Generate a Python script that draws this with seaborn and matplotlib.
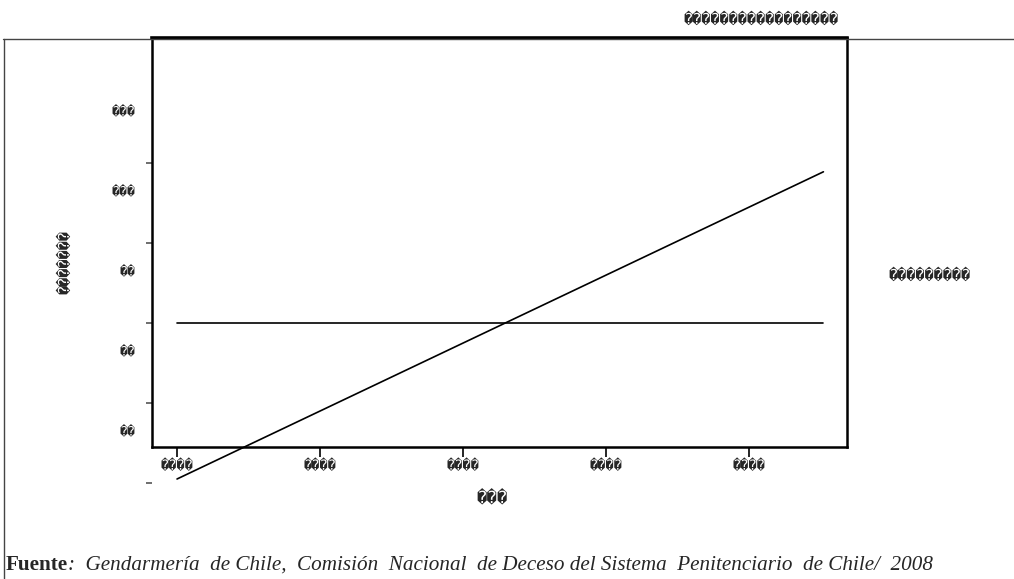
import matplotlib
matplotlib.use("Agg")
import matplotlib.pyplot as plt
import matplotlib.lines as mlines
import seaborn as sns
import pandas as pd

# ---- data ----
x_pos = [0.0, 4.52]            # start / end of both lines on the x scale
trend_vals = [1.05, 4.89]      # rising trend line
mean_vals = [3.0, 3.0]         # flat reference line
x_ticks = [0, 1, 2, 3, 4]
x_tick_labels = ["\ufffd" * 4] * 5
y_ticks = [1, 2, 3, 4, 5]
y_tick_labels = ["\ufffd" * 2, "\ufffd" * 2, "\ufffd" * 2, "\ufffd" * 3, "\ufffd" * 3]
y_label_offset = 0.65
title_text = "\ufffd" * 17
legend_text = "\ufffd" * 9
x_label = "\ufffd" * 3
y_label = "\ufffd" * 7
source_bold = "Fuente"
source_rest = ":  Gendarmería  de Chile,  Comisión  Nacional  de Deceso del Sistema  Penitenciario  de Chile/  2008"

sns.set_theme(style="white")
plt.rcParams["font.family"] = ["Liberation Serif", "DejaVu Sans"]
GLYPH = ["DejaVu Sans Mono", "DejaVu Sans"]

fig = plt.figure(figsize=(10.14, 5.79), dpi=100)
ax = fig.add_axes([152 / 1014, 1 - 447 / 579, 695 / 1014, 409 / 579])

df = pd.DataFrame({"x": x_pos * 2,
                   "y": trend_vals + mean_vals,
                   "s": ["trend"] * 2 + ["mean"] * 2})
sns.lineplot(data=df, x="x", y="y", hue="s", palette={"trend": "black", "mean": "black"},
             legend=False, ax=ax, linewidth=1.2)
for ln in ax.get_lines():
    ln.set_clip_on(False)

ax.set_xlim(-0.175, 4.685)
ax.set_ylim(1.45, 6.5625)

ax.set_xticks(x_ticks)
ax.set_xticklabels(x_tick_labels, fontsize=9.8, family=GLYPH)
ax.tick_params(axis="x", which="major", direction="out", length=7.5, width=1.2,
               color="black", pad=1, bottom=True)

ax.set_yticks(y_ticks[1:])
ax.set_yticklabels([""] * (len(y_ticks) - 1))
ax.set_yticks([v + y_label_offset for v in y_ticks], minor=True)
ax.set_yticklabels(y_tick_labels, minor=True, fontsize=9.5, family=GLYPH)
ax.tick_params(axis="y", which="major", direction="out", length=4.5, width=1.2,
               color="#555555", left=True)
ax.tick_params(axis="y", which="minor", length=0, pad=12, left=True)
# tick for the lowest value, which lies below the frame
ax.plot([0], [y_ticks[0]], transform=ax.get_yaxis_transform(), marker=mlines.TICKLEFT,
        markersize=4.5, markeredgewidth=1.2, color="#555555", clip_on=False)

for side in ["left", "right", "bottom"]:
    ax.spines[side].set_color("black")
    ax.spines[side].set_linewidth(1.8)
ax.spines["top"].set_color("black")
ax.spines["top"].set_linewidth(2.6)

ax.set_xlabel(x_label, fontsize=12.5, family=GLYPH)
ax.xaxis.set_label_coords(0.49, -0.105)
ax.set_ylabel(y_label, fontsize=11, family=GLYPH)
ax.yaxis.set_label_coords(-0.115, 0.452)

fig.text(761 / 1014, 1 - 19 / 579, title_text, fontsize=11, ha="center", va="center",
         family=GLYPH)
fig.text(929 / 1014, 1 - 275 / 579, legend_text, fontsize=11, ha="center", va="center",
         family=GLYPH)

# outer frame lines
fig.add_artist(mlines.Line2D([3 / 1014, 1.0], [1 - 38.5 / 579] * 2,
                             transform=fig.transFigure, color="#444444", lw=1.0))
fig.add_artist(mlines.Line2D([3.5 / 1014] * 2, [0, 1 - 38.5 / 579],
                             transform=fig.transFigure, color="#444444", lw=1.0))

t1 = fig.text(6 / 1014, 1 - 570 / 579, source_bold, fontsize=15.2, fontweight="bold",
              ha="left", va="baseline", family=["Liberation Serif"])
ax.annotate(source_rest, xy=(1, 0), xycoords=t1, xytext=(0, 0), textcoords="offset points",
            ha="left", va="bottom", fontsize=15.2, fontstyle="italic",
            family=["Liberation Serif"], annotation_clip=False)

fig.savefig("out.png", dpi=100)
